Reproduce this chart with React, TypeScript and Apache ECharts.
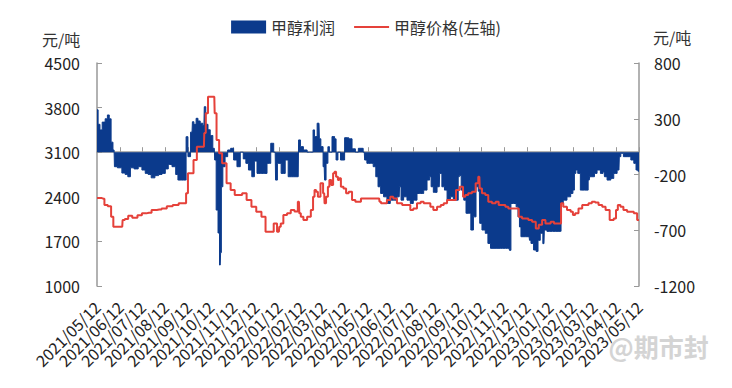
import React, { useEffect, useRef } from "react";
import * as echarts from "echarts";

// ---- data ----
const START = "2021/05/12";
const END = "2023/05/12";

// 甲醇利润 (right axis, 元/吨): [date, value]
const profit: [string, number][] = [
  ["2021/05/12", 380], ["2021/05/15", 250], ["2021/05/17", 200], ["2021/05/21", 270], ["2021/05/25", 300],
  ["2021/05/27", 334], ["2021/05/30", 300], ["2021/06/01", 90], ["2021/06/04", 20], ["2021/06/05", -130],
  ["2021/06/12", -140], ["2021/06/17", -187], ["2021/06/21", -200], ["2021/06/24", -220], ["2021/06/28", -140],
  ["2021/07/04", -150], ["2021/07/09", -130], ["2021/07/14", -160], ["2021/07/18", -190], ["2021/07/22", -200],
  ["2021/07/26", -230], ["2021/08/01", -210], ["2021/08/05", -200], ["2021/08/10", -190], ["2021/08/14", -150],
  ["2021/08/18", -110], ["2021/08/24", -130], ["2021/08/28", -200], ["2021/08/30", -250], ["2021/09/03", -250],
  ["2021/09/08", -250], ["2021/09/10", 139], ["2021/09/13", -40], ["2021/09/17", 180], ["2021/09/18", 273],
  ["2021/09/21", 250], ["2021/09/24", 304], ["2021/09/26", 280], ["2021/09/30", 260], ["2021/10/03", 240],
  ["2021/10/04", 408], ["2021/10/07", 250], ["2021/10/10", 201], ["2021/10/13", 150], ["2021/10/17", 35],
  ["2021/10/18", -70], ["2021/10/21", -519], ["2021/10/23", -725], ["2021/10/25", -1012], ["2021/10/26", -900],
  ["2021/10/27", -310], ["2021/10/30", -130], ["2021/11/02", -40], ["2021/11/06", 20], ["2021/11/10", 35],
  ["2021/11/14", -70], ["2021/11/19", -130], ["2021/11/23", 0], ["2021/11/27", -60], ["2021/11/30", -100],
  ["2021/12/04", -160], ["2021/12/09", -220], ["2021/12/11", -80], ["2021/12/16", -190], ["2021/12/20", -190],
  ["2021/12/24", -190], ["2021/12/30", -100], ["2022/01/03", 80], ["2022/01/07", 0], ["2022/01/08", -250],
  ["2022/01/12", -100], ["2022/01/18", -190], ["2022/01/23", -70], ["2022/01/26", -220], ["2022/02/01", -220],
  ["2022/02/07", -220], ["2022/02/08", 110], ["2022/02/12", 50], ["2022/02/16", 20], ["2022/02/22", 0],
  ["2022/02/26", 0], ["2022/02/28", 200], ["2022/03/02", 140], ["2022/03/07", 260], ["2022/03/08", 120],
  ["2022/03/11", 50], ["2022/03/14", -130], ["2022/03/15", -250], ["2022/03/18", -100], ["2022/03/20", 50],
  ["2022/03/22", 0], ["2022/03/27", 140], ["2022/03/29", 120], ["2022/03/31", -70], ["2022/04/03", 0],
  ["2022/04/07", -70], ["2022/04/14", 130], ["2022/04/18", 120], ["2022/04/23", 30], ["2022/04/27", 0],
  ["2022/05/01", 35], ["2022/05/04", 35], ["2022/05/07", 0], ["2022/05/08", -70], ["2022/05/13", -100],
  ["2022/05/17", -100], ["2022/05/21", -130], ["2022/05/24", -220], ["2022/05/27", -310], ["2022/05/31", -370],
  ["2022/06/04", -400], ["2022/06/09", -460], ["2022/06/13", -430], ["2022/06/17", -430], ["2022/06/23", -400],
  ["2022/06/24", -310], ["2022/06/27", -430], ["2022/07/01", -400], ["2022/07/06", -430], ["2022/07/10", -460],
  ["2022/07/14", -430], ["2022/07/20", -370], ["2022/07/24", -370], ["2022/07/28", -340], ["2022/08/02", -250],
  ["2022/08/04", -220], ["2022/08/06", -310], ["2022/08/10", -360], ["2022/08/16", -310], ["2022/08/17", -190],
  ["2022/08/22", -310], ["2022/08/24", -340], ["2022/08/29", -430], ["2022/09/02", -400], ["2022/09/06", -430],
  ["2022/09/09", -430], ["2022/09/12", -220], ["2022/09/13", -210], ["2022/09/16", -340], ["2022/09/20", -430],
  ["2022/09/22", -548], ["2022/09/26", -548], ["2022/09/29", -698], ["2022/10/03", -580], ["2022/10/06", -310],
  ["2022/10/09", -350], ["2022/10/10", -638], ["2022/10/15", -698], ["2022/10/19", -728], ["2022/10/22", -818],
  ["2022/10/26", -862], ["2022/11/06", -862], ["2022/11/13", -862], ["2022/11/18", -862], ["2022/11/19", -880],
  ["2022/11/22", -460], ["2022/11/26", -460], ["2022/11/29", -490], ["2022/12/01", -580], ["2022/12/03", -670],
  ["2022/12/05", -758], ["2022/12/15", -758], ["2022/12/16", -790], ["2022/12/19", -818], ["2022/12/23", -877],
  ["2022/12/26", -890], ["2022/12/28", -790], ["2023/01/01", -728], ["2023/01/04", -820], ["2023/01/05", -698],
  ["2023/01/11", -710], ["2023/01/20", -710], ["2023/01/26", -710], ["2023/01/28", -460], ["2023/02/01", -430],
  ["2023/02/07", -400], ["2023/02/11", -370], ["2023/02/13", -340], ["2023/02/15", -190], ["2023/02/17", -160],
  ["2023/02/20", -190], ["2023/02/24", -340], ["2023/03/03", -340], ["2023/03/06", -250], ["2023/03/07", -220],
  ["2023/03/12", -220], ["2023/03/14", -190], ["2023/03/19", -160], ["2023/03/23", -190], ["2023/03/26", -175],
  ["2023/03/27", -220], ["2023/04/02", -250], ["2023/04/06", -235], ["2023/04/10", -190], ["2023/04/15", -160],
  ["2023/04/16", -40], ["2023/04/19", -10], ["2023/04/23", -40], ["2023/04/29", -40], ["2023/05/03", -70],
  ["2023/05/07", -100], ["2023/05/09", -160], ["2023/05/12", -170],
];

// 甲醇价格 (left axis, 元/吨): [date, value]
const price: [string, number][] = [
  ["2021/05/12", 2380], ["2021/05/16", 2380], ["2021/05/21", 2370], ["2021/05/23", 2270], ["2021/05/30", 2250],
  ["2021/06/01", 2087], ["2021/06/05", 1930], ["2021/06/11", 1930], ["2021/06/15", 1930], ["2021/06/16", 2035],
  ["2021/06/21", 2050], ["2021/06/25", 2103], ["2021/07/02", 2070], ["2021/07/09", 2110], ["2021/07/14", 2140],
  ["2021/07/21", 2150], ["2021/07/28", 2192], ["2021/08/04", 2200], ["2021/08/10", 2215], ["2021/08/18", 2250],
  ["2021/08/26", 2270], ["2021/09/03", 2297], ["2021/09/08", 2297], ["2021/09/10", 2454], ["2021/09/13", 2768],
  ["2021/09/17", 2768], ["2021/09/21", 2977], ["2021/09/26", 3186], ["2021/10/03", 3186], ["2021/10/04", 3400],
  ["2021/10/07", 3710], ["2021/10/10", 3971], ["2021/10/17", 3971], ["2021/10/18", 3710], ["2021/10/22", 3291],
  ["2021/10/25", 3082], ["2021/10/30", 2925], ["2021/11/06", 2611], ["2021/11/10", 2506], ["2021/11/17", 2428],
  ["2021/11/21", 2428], ["2021/11/26", 2454], ["2021/12/03", 2350], ["2021/12/09", 2245], ["2021/12/16", 2165],
  ["2021/12/23", 2087], ["2021/12/27", 1851], ["2021/12/31", 1851], ["2022/01/03", 1851], ["2022/01/07", 1982],
  ["2022/01/12", 1851], ["2022/01/13", 1930], ["2022/01/16", 1982], ["2022/01/20", 2113], ["2022/01/26", 2140],
  ["2022/01/30", 2192], ["2022/02/05", 2170], ["2022/02/08", 2323], ["2022/02/09", 2140], ["2022/02/12", 2087],
  ["2022/02/16", 2035], ["2022/02/22", 2087], ["2022/02/26", 2192], ["2022/02/28", 2401], ["2022/03/02", 2506],
  ["2022/03/04", 2480], ["2022/03/07", 2401], ["2022/03/11", 2611], ["2022/03/14", 2454], ["2022/03/15", 2297],
  ["2022/03/18", 2401], ["2022/03/20", 2558], ["2022/03/22", 2663], ["2022/03/25", 2585], ["2022/03/27", 2768],
  ["2022/03/29", 2794], ["2022/03/31", 2715], ["2022/04/03", 2663], ["2022/04/04", 2690], ["2022/04/07", 2558],
  ["2022/04/11", 2530], ["2022/04/14", 2454], ["2022/04/18", 2480], ["2022/04/23", 2349], ["2022/04/27", 2323],
  ["2022/05/01", 2323], ["2022/05/04", 2375], ["2022/05/15", 2375], ["2022/05/27", 2375], ["2022/05/28", 2323],
  ["2022/05/31", 2297], ["2022/06/04", 2297], ["2022/06/09", 2349], ["2022/06/13", 2401], ["2022/06/17", 2375],
  ["2022/06/23", 2297], ["2022/07/01", 2270], ["2022/07/06", 2270], ["2022/07/10", 2192], ["2022/07/14", 2218],
  ["2022/07/20", 2297], ["2022/07/24", 2323], ["2022/07/28", 2297], ["2022/08/02", 2297], ["2022/08/06", 2245],
  ["2022/08/10", 2192], ["2022/08/16", 2245], ["2022/08/20", 2270], ["2022/08/24", 2297], ["2022/08/29", 2349],
  ["2022/09/02", 2349], ["2022/09/06", 2349], ["2022/09/09", 2506], ["2022/09/16", 2558], ["2022/09/18", 2401],
  ["2022/09/22", 2428], ["2022/09/26", 2454], ["2022/10/02", 2480], ["2022/10/06", 2611], ["2022/10/09", 2715],
  ["2022/10/10", 2530], ["2022/10/15", 2454], ["2022/10/19", 2428], ["2022/10/23", 2323], ["2022/10/29", 2297],
  ["2022/11/02", 2323], ["2022/11/06", 2270], ["2022/11/11", 2270], ["2022/11/15", 2245], ["2022/11/19", 2218],
  ["2022/11/25", 2218], ["2022/11/29", 2218], ["2022/12/03", 2087], ["2022/12/08", 2060], ["2022/12/12", 2060],
  ["2022/12/16", 2035], ["2022/12/22", 2009], ["2022/12/26", 1904], ["2022/12/30", 1960], ["2023/01/04", 2035],
  ["2023/01/08", 1982], ["2023/01/11", 1982], ["2023/01/15", 2009], ["2023/01/20", 1982], ["2023/01/26", 1982],
  ["2023/01/28", 2297], ["2023/02/01", 2245], ["2023/02/07", 2192], ["2023/02/11", 2165], ["2023/02/13", 2113],
  ["2023/02/17", 2140], ["2023/02/22", 2218], ["2023/02/27", 2270], ["2023/03/03", 2270], ["2023/03/07", 2297],
  ["2023/03/12", 2323], ["2023/03/16", 2310], ["2023/03/21", 2270], ["2023/03/26", 2245], ["2023/03/30", 2192],
  ["2023/04/06", 2035], ["2023/04/10", 2060], ["2023/04/12", 2192], ["2023/04/15", 2270], ["2023/04/19", 2245],
  ["2023/04/23", 2192], ["2023/04/29", 2165], ["2023/05/03", 2165], ["2023/05/07", 2140], ["2023/05/12", 2035],
];

const leftTicks = { min: 1000, max: 4500, interval: 700 };
const rightTicks = { min: -1200, max: 800, interval: 500 };
const unitLabel = "元/吨";
const seriesNames = ["甲醇利润", "甲醇价格(左轴)"];
const watermark = "@期市封";

// all calendar days on the category axis
function buildDays(start: string, end: string): string[] {
  const [sy, sm, sd] = start.split("/").map(Number);
  const [ey, em, ed] = end.split("/").map(Number);
  const out: string[] = [];
  let t = Date.UTC(sy, sm - 1, sd);
  const e = Date.UTC(ey, em - 1, ed);
  while (t <= e) {
    const d = new Date(t);
    const mm = String(d.getUTCMonth() + 1).padStart(2, "0");
    const dd = String(d.getUTCDate()).padStart(2, "0");
    out.push(`${d.getUTCFullYear()}/${mm}/${dd}`);
    t += 86400000;
  }
  return out;
}

const BLUE = "#0b3a8c";
const RED = "#e5413a";
const FONT = "'Noto Sans CJK SC', 'Noto Sans', sans-serif";
const LINE_ICON = "path://M0,0 H0.05 V0.05 H0 Z M0,5.5 H35 V7.5 H0 Z M0,12.95 H0.05 V13 H0 Z";

export default function App() {
  const ref = useRef<HTMLDivElement>(null);
  useEffect(() => {
    document.body.style.margin = "0";
    if (!ref.current) return;
    const chart = echarts.init(ref.current, undefined, { renderer: "svg" });
    const days = buildDays(START, END);
    const isMonthTick = (_i: number, v: string) => v.endsWith("/12");
    const plain = (v: number) => String(v);
    chart.setOption({
      animation: false,
      backgroundColor: "#fff",
      textStyle: { fontFamily: FONT },
      grid: { left: 97, right: 93, top: 63, bottom: 102, outerBoundsMode: "none", containLabel: false },
      legend: {
        top: 14,
        left: "center",
        itemWidth: 35,
        itemHeight: 13,
        itemGap: 19,
        textStyle: { fontSize: 16, color: "#333", fontFamily: FONT },
        data: [
          { name: seriesNames[0], icon: "rect" },
          { name: seriesNames[1], icon: LINE_ICON, itemStyle: { color: RED } },
        ],
      },
      xAxis: {
        type: "category",
        data: days,
        boundaryGap: false,
        axisLine: { lineStyle: { color: "#999", width: 1.5 } },
        axisTick: { show: true, inside: true, length: 5, interval: isMonthTick, lineStyle: { color: "#999" } },
        axisLabel: {
          interval: 0,
          formatter: (v: string) => (v.endsWith("/12") ? v : ""),
          hideOverlap: false,
          rotate: 45,
          fontSize: 16,
          color: "#222",
          margin: 18,
          fontFamily: FONT,
        },
        splitLine: { show: false },
      },
      yAxis: [
        {
          type: "value",
          position: "left",
          min: leftTicks.min,
          max: leftTicks.max,
          interval: leftTicks.interval,
          axisLine: { show: true, lineStyle: { color: "#999", width: 1.5 } },
          axisTick: { show: true, inside: true, length: 5, lineStyle: { color: "#999" } },
          axisLabel: { fontSize: 16, color: "#222", margin: 17, fontFamily: FONT, formatter: plain },
          splitLine: { show: false },
        },
        {
          type: "value",
          position: "right",
          min: rightTicks.min,
          max: rightTicks.max,
          interval: rightTicks.interval,
          axisLine: { show: true, lineStyle: { color: "#999", width: 1.5 } },
          axisTick: { show: true, inside: true, length: 5, lineStyle: { color: "#999" } },
          axisLabel: { fontSize: 16, color: "#222", margin: 15, fontFamily: FONT, formatter: plain },
          splitLine: { show: false },
        },
      ],
      series: [
        {
          name: seriesNames[0],
          type: "line",
          yAxisIndex: 1,
          data: profit,
          step: "middle",
          symbol: "none",
          showSymbol: false,
          lineStyle: { width: 1, color: BLUE },
          itemStyle: { color: BLUE },
          areaStyle: { color: BLUE, opacity: 1 },
          z: 2,
        },
        {
          name: seriesNames[1],
          type: "line",
          yAxisIndex: 0,
          data: price,
          step: "middle",
          symbol: "none",
          showSymbol: false,
          lineStyle: { width: 2, color: RED },
          itemStyle: { color: RED },
          z: 3,
        },
      ],
      graphic: [
        {
          type: "text",
          left: 42,
          top: 31,
          style: { text: unitLabel, fontSize: 16, fill: "#333", fontFamily: FONT },
        },
        {
          type: "text",
          left: 653,
          top: 29,
          style: { text: unitLabel, fontSize: 16, fill: "#333", fontFamily: FONT },
        },
        {
          type: "text",
          left: 608,
          top: 333,
          z: 10,
          style: {
            text: watermark,
            fontSize: 25,
            fontWeight: "bold",
            fill: "#d4d4d4",
            stroke: "#ffffff",
            lineWidth: 1,
            fontFamily: FONT,
          },
        },
      ],
    });
    return () => chart.dispose();
  }, []);
  return <div ref={ref} style={{ width: 732, height: 388 }} />;
}
